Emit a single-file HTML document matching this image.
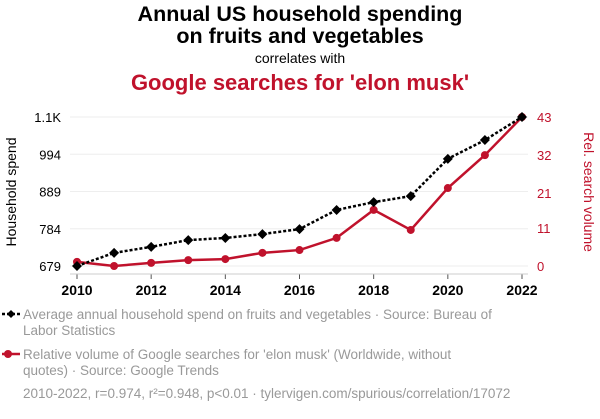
<!DOCTYPE html>
<html><head><meta charset="utf-8"><style>
body{margin:0;background:#fff;font-family:"Liberation Sans",sans-serif}
svg text{font-family:"Liberation Sans",sans-serif}
</style></head><body>
<svg id="c" width="600" height="414" viewBox="0 0 600 414">
<text x="300" y="21" text-anchor="middle" font-size="21.5" font-weight="bold" fill="#000">Annual US household spending</text>
<text x="300" y="43" text-anchor="middle" font-size="21.5" font-weight="bold" fill="#000">on fruits and vegetables</text>
<text x="300" y="63" text-anchor="middle" font-size="14" fill="#000">correlates with</text>
<text x="300" y="90" text-anchor="middle" font-size="22" font-weight="bold" fill="#c0122c">Google searches for 'elon musk'</text>
<g id="grid"></g><g id="axes"></g><g id="series"></g>
<text transform="translate(16,192) rotate(-90)" text-anchor="middle" font-size="14" fill="#000">Household spend</text>
<text transform="translate(584,192) rotate(90)" text-anchor="middle" font-size="14" fill="#c0122c">Rel. search volume</text>
<g>
<line x1="2" y1="314" x2="20" y2="314" stroke="#000" stroke-width="2.5" stroke-dasharray="3,2"/><path d="M7,314 l4,-4 4,4 -4,4z" fill="#000"/>
<text x="23" y="319" font-size="13.5" fill="#999">Average annual household spend on fruits and vegetables · Source: Bureau of</text>
<text x="23" y="335" font-size="13.5" fill="#999">Labor Statistics</text></g>
<g>
<line x1="2" y1="354" x2="20" y2="354" stroke="#c0122c" stroke-width="2.5"/><circle cx="8" cy="354" r="4" fill="#c0122c"/>
<text x="23" y="359" font-size="13.5" fill="#999">Relative volume of Google searches for 'elon musk' (Worldwide, without</text>
<text x="23" y="375" font-size="13.5" fill="#999">quotes) · Source: Google Trends</text></g>
<text x="23" y="398" font-size="13.5" fill="#999">2010-2022, r=0.974, r²=0.948, p&lt;0.01 · tylervigen.com/spurious/correlation/17072</text>
</svg>
<script>
const years=[2010,2011,2012,2013,2014,2015,2016,2017,2018,2019,2020,2021,2022];
const spend=[679,716,733,752,758,769,783,837,859,876,981,1034,1099];
const searches=[1.2,0,0.9,1.7,2.0,3.8,4.6,8.1,16.2,10.4,22.5,32,43];
const leftTicks=[679,784,889,994,1099];
const leftLabels=["679","784","889","994","1.1K"];
const rightTicks=[0,11,21,32,43];
const xTicks=[2010,2012,2014,2016,2018,2020,2022];
const NS="http://www.w3.org/2000/svg";
const X=v=>77+(v-2010)/12*445;
const YL=v=>266-(v-679)/(1099-679)*149;
const YR=v=>266-v/43*149;
function mk(t,a,p){const e=document.createElementNS(NS,t);for(const k in a)e.setAttribute(k,a[k]);p.appendChild(e);return e;}
const grid=document.getElementById('grid'),axes=document.getElementById('axes'),ser=document.getElementById('series');
leftTicks.forEach((v,i)=>{
 const g=mk('line',{x1:70,x2:528,y1:YL(v),y2:YL(v),stroke:'#eee','stroke-width':1},grid);
 
 
 const t=mk('text',{x:61,y:YL(v)+5,'text-anchor':'end','font-size':13,fill:'#000'},axes);t.textContent=leftLabels[i];
 
 
});
rightTicks.forEach(v=>{
 const t=mk('text',{x:537,y:YR(v)+5,'text-anchor':'start','font-size':13,fill:'#c0122c'},axes);t.textContent=v;
 
 
});
xTicks.forEach(v=>{
 const t=mk('text',{x:X(v),y:295,'text-anchor':'middle','font-size':14,'font-weight':'bold',fill:'#000'},axes);t.textContent=v;
 
 
 const tk=mk('line',{x1:X(v),x2:X(v),y1:274,y2:279,stroke:'#555'},axes);
 
 
});
const ax=mk('line',{x1:70,x2:528,y1:274,y2:274,stroke:'#ccc'},axes);


const rp=mk('polyline',{points:years.map((y,i)=>X(y)+','+YR(searches[i])).join(' '),fill:'none',stroke:'#c0122c','stroke-width':2.5},ser);


years.forEach((y,i)=>{const c=mk('circle',{cx:X(y),cy:YR(searches[i]),r:4,fill:'#c0122c'},ser);
 
 });
const bp=mk('polyline',{points:years.map((y,i)=>X(y)+','+YL(spend[i])).join(' '),fill:'none',stroke:'#000','stroke-width':2.5,'stroke-dasharray':'3,2'},ser);


years.forEach((y,i)=>{const x=X(y),yy=YL(spend[i]);const p=mk('path',{d:`M${x-5},${yy} L${x},${yy-5} L${x+5},${yy} L${x},${yy+5}Z`,fill:'#000'},ser);
 
 });
</script>
</body></html>
